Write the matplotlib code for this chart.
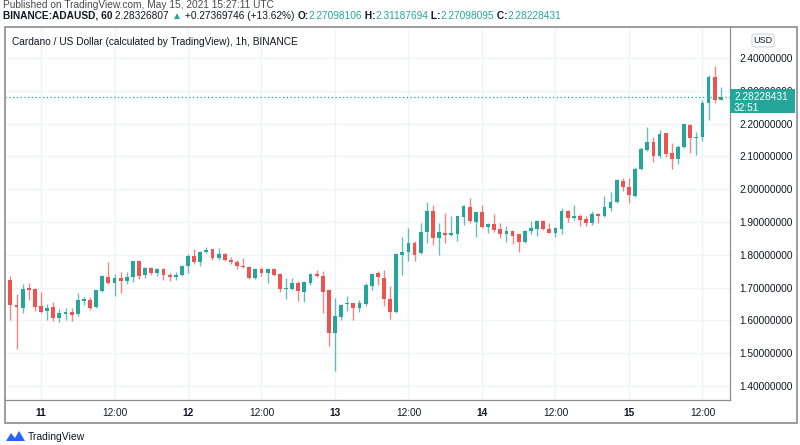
import matplotlib
matplotlib.use("Agg")
import matplotlib.pyplot as plt
import numpy as np
import pandas as pd
from matplotlib.patches import Rectangle, FancyBboxPatch, Polygon
from matplotlib.text import Annotation

plt.rcParams["font.family"] = ["Liberation Sans", "DejaVu Sans"]

# hourly ADAUSD candles, first bar 2021-05-10 19:00 UTC
start = "2021-05-10 19:00"
opens = [
    1.723, 1.648, 1.638, 1.699, 1.697, 1.643, 1.630, 1.641, 1.607, 1.620,
    1.627, 1.620, 1.658, 1.662, 1.641, 1.690, 1.733, 1.715, 1.728, 1.721,
    1.731, 1.780, 1.739, 1.759, 1.744, 1.756, 1.739, 1.731, 1.737, 1.766,
    1.795, 1.777, 1.810, 1.817, 1.790, 1.803, 1.783, 1.778, 1.767, 1.762,
    1.729, 1.756, 1.744, 1.756, 1.742, 1.696, 1.696, 1.713, 1.688, 1.715,
    1.742, 1.736, 1.693, 1.562, 1.611, 1.649, 1.652, 1.637, 1.650, 1.706,
    1.743, 1.729, 1.665, 1.625, 1.798, 1.809, 1.836, 1.804, 1.869, 1.932,
    1.851, 1.866, 1.861, 1.864, 1.915, 1.946, 1.899, 1.929, 1.884, 1.895,
    1.879, 1.864, 1.874, 1.862, 1.839, 1.872, 1.880, 1.903, 1.880, 1.867,
    1.880, 1.935, 1.912, 1.919, 1.908, 1.898, 1.923, 1.919, 1.944, 1.962,
    2.026, 2.008, 1.979, 2.062, 2.119, 2.145, 2.101, 2.170, 2.109, 2.092,
    2.128, 2.196, 2.155, 2.158, 2.264, 2.343, 2.27098106,
]
highs = [
    1.736, 1.679, 1.710, 1.713, 1.699, 1.687, 1.651, 1.655, 1.634, 1.638,
    1.638, 1.682, 1.672, 1.672, 1.694, 1.737, 1.777, 1.742, 1.747, 1.747,
    1.782, 1.782, 1.762, 1.762, 1.759, 1.761, 1.744, 1.747, 1.768, 1.802,
    1.818, 1.812, 1.823, 1.819, 1.820, 1.805, 1.793, 1.785, 1.790, 1.767,
    1.759, 1.764, 1.761, 1.759, 1.744, 1.729, 1.729, 1.721, 1.721, 1.744,
    1.754, 1.752, 1.695, 1.667, 1.649, 1.674, 1.654, 1.662, 1.713, 1.744,
    1.750, 1.755, 1.704, 1.806, 1.853, 1.882, 1.841, 1.897, 1.961, 1.953,
    1.897, 1.927, 1.919, 1.919, 1.953, 1.973, 1.931, 1.953, 1.897, 1.924,
    1.897, 1.887, 1.877, 1.864, 1.877, 1.903, 1.905, 1.906, 1.897, 1.884,
    1.944, 1.937, 1.951, 1.923, 1.918, 1.932, 1.926, 1.980, 1.992, 2.030,
    2.033, 2.035, 2.067, 2.130, 2.189, 2.158, 2.180, 2.172, 2.140, 2.135,
    2.200, 2.198, 2.175, 2.272, 2.348, 2.377, 2.31187694,
]
lows = [
    1.602, 1.513, 1.623, 1.662, 1.629, 1.624, 1.602, 1.597, 1.595, 1.600,
    1.597, 1.612, 1.646, 1.633, 1.639, 1.688, 1.711, 1.674, 1.685, 1.711,
    1.718, 1.726, 1.729, 1.739, 1.734, 1.723, 1.721, 1.723, 1.734, 1.744,
    1.771, 1.766, 1.805, 1.785, 1.785, 1.780, 1.771, 1.756, 1.759, 1.726,
    1.726, 1.736, 1.713, 1.736, 1.686, 1.665, 1.693, 1.660, 1.657, 1.708,
    1.731, 1.623, 1.521, 1.446, 1.601, 1.629, 1.601, 1.627, 1.645, 1.693,
    1.709, 1.643, 1.603, 1.623, 1.737, 1.780, 1.780, 1.802, 1.836, 1.831,
    1.800, 1.836, 1.858, 1.841, 1.892, 1.897, 1.853, 1.882, 1.866, 1.869,
    1.851, 1.839, 1.834, 1.808, 1.836, 1.864, 1.856, 1.877, 1.865, 1.854,
    1.864, 1.901, 1.906, 1.888, 1.888, 1.891, 1.896, 1.916, 1.934, 1.959,
    1.993, 1.959, 1.975, 2.060, 2.116, 2.084, 2.094, 2.097, 2.061, 2.077,
    2.126, 2.109, 2.104, 2.148, 2.211, 2.262, 2.27098095,
]
closes = [
    1.646, 1.641, 1.697, 1.692, 1.641, 1.626, 1.638, 1.607, 1.622, 1.627,
    1.617, 1.662, 1.664, 1.638, 1.692, 1.735, 1.715, 1.728, 1.721, 1.731,
    1.780, 1.736, 1.759, 1.744, 1.756, 1.739, 1.731, 1.737, 1.766, 1.795,
    1.777, 1.810, 1.815, 1.790, 1.802, 1.783, 1.777, 1.766, 1.762, 1.729,
    1.756, 1.744, 1.756, 1.739, 1.696, 1.700, 1.713, 1.691, 1.718, 1.742,
    1.734, 1.688, 1.562, 1.614, 1.647, 1.652, 1.637, 1.652, 1.708, 1.741,
    1.731, 1.665, 1.625, 1.801, 1.809, 1.836, 1.800, 1.869, 1.932, 1.851,
    1.869, 1.861, 1.866, 1.917, 1.948, 1.902, 1.929, 1.884, 1.895, 1.877,
    1.863, 1.873, 1.858, 1.838, 1.874, 1.882, 1.903, 1.879, 1.867, 1.882,
    1.935, 1.913, 1.917, 1.906, 1.898, 1.923, 1.918, 1.947, 1.962, 2.028,
    2.006, 1.982, 2.062, 2.122, 2.145, 2.101, 2.167, 2.107, 2.092, 2.130,
    2.198, 2.155, 2.160, 2.264, 2.343, 2.271, 2.28228431,
]
last_price = 2.28228431
price_ticks = [1.4, 1.5, 1.6, 1.7, 1.8, 1.9, 2.0, 2.1, 2.2, 2.3, 2.4]

UP = "#26a69a"
DOWN = "#ef5350"
TXT = "#131722"
GRID = "#f0f3fa"
FRAME = "#8c8c8c"

W, H = 800, 445
FS = 7.3


def fx(px):
    return px / W


def fy(py):
    # pixel row from top -> figure fraction
    return 1 - py / H


times = pd.date_range(start, periods=len(opens), freq="h")
x = np.arange(len(opens))
o, h, l, c = map(np.array, (opens, highs, lows, closes))
colors = np.where(c >= o, UP, DOWN)

fig = plt.figure(figsize=(W / 100, H / 100), dpi=100)
ax = fig.add_axes([fx(5), fy(400), fx(725), (400 - 27) / H])
ax.set_xlim(x[0] - 0.88, x[-1] + 1.5)
ax.set_ylim(1.3573, 2.4945)

# grid at price levels and at 00:00 / 12:00
ax.set_yticks(price_ticks)
day_ticks = [i for i, t in enumerate(times) if t.hour in (0, 12)]
ax.set_xticks(day_ticks)
ax.grid(True, color=GRID, lw=1)
ax.set_axisbelow(True)

body = np.maximum(np.abs(c - o), 0.0025)
ax.vlines(x, l, h, colors=colors, lw=1, alpha=0.7, zorder=2)
ax.bar(x, body, bottom=np.minimum(o, c), width=0.62, color=colors, zorder=3, lw=0)

ax.axhline(last_price, color=UP, lw=0.9, ls=(0, (1, 2)), zorder=1)

for s in ("top", "left"):
    ax.spines[s].set_visible(False)
for s in ("right", "bottom"):
    ax.spines[s].set_color(FRAME)
    ax.spines[s].set_linewidth(0.9)
ax.yaxis.tick_right()
ax.tick_params(axis="y", length=0, pad=7, labelsize=FS, labelcolor=TXT)
ax.tick_params(axis="x", length=0, pad=6, labelsize=FS, labelcolor=TXT)
ax.set_yticklabels([f"{v:.8f}" for v in price_ticks])
ax.set_xticklabels([str(times[i].day) if times[i].hour == 0 else "12:00" for i in day_ticks])
for lab, i in zip(ax.get_xticklabels(), day_ticks):
    if times[i].hour == 0:
        lab.set_fontweight("bold")

# outer frame
fig.add_artist(Rectangle((fx(5), fy(423)), fx(792), (423 - 27) / H, transform=fig.transFigure,
                         fill=False, ec=FRAME, lw=1.2))

# last price label on the scale
fig.add_artist(Rectangle((fx(730), fy(113)), fx(65), 24 / H, transform=fig.transFigure,
                         fc=UP, ec="none"))
fig.text(fx(734), fy(97), f"{last_price:.8f}", color="white", fontsize=FS, va="center", ha="left")
fig.text(fx(734), fy(108), "32:51", color="white", fontsize=FS, va="center", ha="left")

# USD badge
fig.add_artist(FancyBboxPatch((fx(752), fy(47)), fx(22), 13 / H,
                              boxstyle="round,pad=0,rounding_size=0.004",
                              transform=fig.transFigure, fc="white", ec="#d1d4dc", lw=0.8))
fig.text(fx(763), fy(40.5), "USD", color=TXT, fontsize=6.5, ha="center", va="center")

# chart title
fig.text(fx(12), fy(42), "Cardano / US Dollar (calculated by TradingView), 1h, BINANCE",
         color=TXT, fontsize=FS, va="center", ha="left")

# header lines
fig.text(fx(3), fy(5), "Published on TradingView.com, May 15, 2021 15:27:11 UTC",
         color="#4a4a4a", fontsize=FS, va="center", ha="left")

segments = [
    ("BINANCE:ADAUSD, 60", TXT, "bold"),
    (" 2.28326807 ", TXT, "normal"),
    ("\u25b2", UP, "normal"),
    (" +0.27369746 (+13.62%) ", TXT, "normal"),
    ("O:", TXT, "bold"),
    ("2.27098106", UP, "normal"),
    (" H:", TXT, "bold"),
    ("2.31187694", UP, "normal"),
    (" L:", TXT, "bold"),
    ("2.27098095", UP, "normal"),
    (" C:", TXT, "bold"),
    ("2.28228431", UP, "normal"),
]
text0, col0, wt0 = segments[0]
anchor = fig.text(fx(3), fy(21), text0, color=col0, fontweight=wt0, fontsize=FS,
                  va="bottom", ha="left")
for text, col, wt in segments[1:]:
    # each piece starts where the previous one ends
    anchor = fig.add_artist(Annotation(text, xy=(1, 0), xycoords=anchor, color=col,
                                       fontweight=wt, fontsize=FS, va="bottom", ha="left"))

# TradingView logo
logo = Polygon([[fx(6), fy(441)], [fx(11), fy(433)], [fx(15), fy(438)], [fx(19), fy(431)],
                [fx(25), fy(441)]], closed=True, transform=fig.transFigure, fc="#2962ff", ec="none")
fig.add_artist(logo)
fig.text(fx(28), fy(437), "TradingView", color=TXT, fontsize=7.5, va="center", ha="left")

fig.savefig("out.png", dpi=100)
